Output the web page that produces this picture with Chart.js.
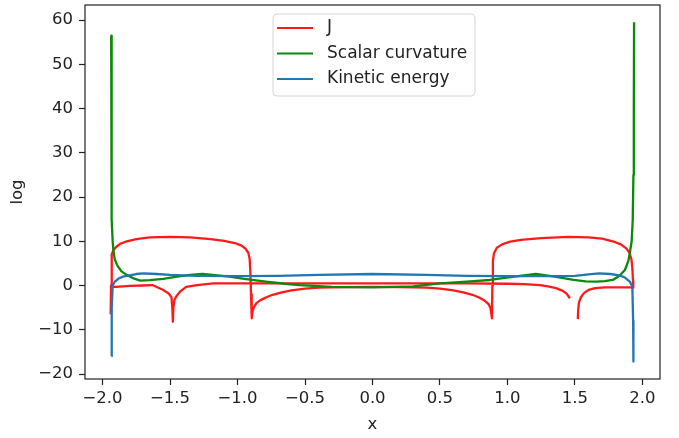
<!DOCTYPE html>
<html><head><meta charset="utf-8">
<script src="https://cdn.jsdelivr.net/npm/chart.js@4"></script>
<style>html,body{margin:0;padding:0;background:#fff}</style>
</head><body>
<canvas id="c" width="679" height="438"></canvas>
<script>
// ---- data ----
const seriesLabels = ['J', 'Scalar curvature', 'Kinetic energy'];
const xTicks = [-2.0, -1.5, -1.0, -0.5, 0.0, 0.5, 1.0, 1.5, 2.0];
const yTicks = [-20, -10, 0, 10, 20, 30, 40, 50, 60];

// J : several branches separated by null gaps
const jX = [
  -1.940,-1.937,-1.934,-1.930,-1.920,-1.900,-1.870,-1.820,-1.750,-1.650,-1.500,-1.350,-1.200,-1.100,-1.020,-0.970,-0.940,-0.920,-0.910,-0.905,-0.900,-0.895,
  -0.890,-0.880,-0.860,-0.830,-0.790,-0.740,-0.680,-0.600,-0.500,-0.400,-0.200,0.000,0.200,0.400,0.500,0.600,0.680,0.740,0.790,0.830,0.860,0.875,0.885,
  0.888,0.892,0.900,0.920,0.960,1.020,1.100,1.250,1.450,1.600,1.700,1.780,1.840,1.880,1.905,1.918,1.925,1.930,1.932,
  1.932,
  -1.935,-1.900,-1.800,-1.700,-1.630,-1.550,-1.510,-1.490,-1.483,-1.479,-1.475,-1.467,-1.450,-1.420,-1.380,-1.300,-1.180,-1.000,-0.700,0.000,0.700,1.000,1.120,1.240,1.300,1.360,1.410,1.440,1.462,
  1.462,
  1.521,1.524,1.530,1.545,1.570,1.600,1.650,1.720,1.820,1.900,1.932
];
const jY = [
  -6.5,0.0,5.5,7.0,7.9,8.7,9.4,10.0,10.5,10.9,11.0,10.9,10.5,10.1,9.6,9.0,8.3,7.4,6.0,3.0,-2.0,-7.4,
  -6.0,-5.0,-4.0,-3.3,-2.7,-2.1,-1.6,-1.1,-0.7,-0.5,-0.35,-0.3,-0.35,-0.5,-0.7,-1.1,-1.6,-2.1,-2.7,-3.4,-4.2,-5.2,-7.4,
  0.0,5.5,7.3,8.5,9.3,9.9,10.3,10.7,11.0,10.9,10.6,10.0,9.3,8.4,7.3,6.0,4.0,1.0,-0.5,
  null,
  -0.3,-0.3,-0.1,0.0,0.1,-1.0,-1.8,-2.6,-5.0,-8.2,-5.0,-3.2,-2.3,-1.2,-0.3,0.1,0.5,0.5,0.5,0.5,0.5,0.4,0.3,0.1,-0.2,-0.6,-1.2,-1.9,-2.9,
  null,
  -7.6,-5.5,-3.8,-2.6,-1.6,-1.0,-0.6,-0.4,-0.4,-0.4,-0.5
];

const scalarX = [
  -1.936,-1.935,-1.933,-1.930,-1.925,-1.920,-1.910,-1.890,-1.860,-1.820,-1.770,-1.720,-1.650,-1.550,-1.450,-1.350,-1.260,-1.150,-1.060,-0.950,-0.790,-0.650,-0.540,-0.300,0.000,
  0.300,0.500,0.700,0.870,1.050,1.210,1.350,1.490,1.580,1.660,1.720,1.780,1.830,1.870,1.895,1.906,1.920,1.928,1.933,1.936,1.938
];
const scalarY = [
  56.5,40.0,25.0,15.0,10.0,8.0,6.0,4.5,3.2,2.4,1.6,1.1,1.2,1.5,2.0,2.4,2.6,2.3,2.0,1.5,0.9,0.4,0.1,-0.3,-0.4,
  -0.2,0.5,0.9,1.25,2.0,2.6,2.0,1.25,0.95,0.86,1.0,1.25,2.2,3.5,5.5,7.3,10.0,14.8,25.0,40.0,59.5
];

const kineticX = [
  -1.933,-1.932,-1.925,-1.910,-1.880,-1.850,-1.800,-1.750,-1.700,-1.600,-1.500,-1.300,-1.000,-0.700,-0.400,0.000,0.400,0.700,1.000,1.300,1.500,1.600,1.680,1.760,1.830,1.870,1.906,1.925,1.931,1.933
];
const kineticY = [
  -16.0,-5.0,0.0,0.8,1.6,2.0,2.3,2.6,2.75,2.6,2.4,2.2,2.1,2.2,2.4,2.6,2.4,2.2,2.1,2.1,2.2,2.5,2.75,2.6,2.3,1.8,0.9,-0.3,-8.0,-17.2
];

const xRange = [-2.13, 2.13];
const yRange = [-21.13, 63.4];

// ---- build ----
const toPts = (xs, ys) => xs.map((x, i) => ({x: x, y: ys[i]}));
const fmt = v => (v < 0 ? '\u2212' : '') + Math.abs(v);
const FONT = 'DejaVu Sans';
const TXT = '#222';

const framePlugin = {
  id: 'frame',
  afterDatasetsDraw(chart) {
    const a = chart.chartArea, ctx = chart.ctx;
    ctx.save();
    ctx.strokeStyle = '#222';
    ctx.lineWidth = 1.2;
    ctx.strokeRect(a.left, a.top, a.right - a.left, a.bottom - a.top);
    ctx.restore();
  }
};

const legendPlugin = {
  id: 'boxLegend',
  afterDraw(chart) {
    const a = chart.chartArea, ctx = chart.ctx;
    const x0 = a.left + 188, y0 = a.top + 9, w = 202, h = 82, r = 4;
    ctx.save();
    ctx.beginPath();
    ctx.moveTo(x0 + r, y0);
    ctx.arcTo(x0 + w, y0, x0 + w, y0 + h, r);
    ctx.arcTo(x0 + w, y0 + h, x0, y0 + h, r);
    ctx.arcTo(x0, y0 + h, x0, y0, r);
    ctx.arcTo(x0, y0, x0 + w, y0, r);
    ctx.closePath();
    ctx.fillStyle = 'rgba(255,255,255,0.85)';
    ctx.fill();
    ctx.strokeStyle = '#d6d6d6';
    ctx.lineWidth = 1;
    ctx.stroke();
    ctx.font = '17px "' + FONT + '"';
    ctx.textBaseline = 'middle';
    ctx.fillStyle = TXT;
    chart.data.datasets.forEach((ds, i) => {
      const yy = y0 + 14 + i * 25.5;
      ctx.beginPath();
      ctx.moveTo(x0 + 4, yy);
      ctx.lineTo(x0 + 40, yy);
      ctx.strokeStyle = ds.borderColor;
      ctx.lineWidth = 2.2;
      ctx.stroke();
      ctx.fillText(ds.label, x0 + 54, yy);
    });
    ctx.restore();
  }
};

new Chart(document.getElementById('c'), {
  type: 'line',
  data: {
    datasets: [
      {label: seriesLabels[0], data: toPts(jX, jY), borderColor: '#ff1a1a', order: 3},
      {label: seriesLabels[1], data: toPts(scalarX, scalarY), borderColor: '#0a8a0a', order: 2},
      {label: seriesLabels[2], data: toPts(kineticX, kineticY), borderColor: '#1f77b4', order: 1}
    ].map(d => Object.assign(d, {
      borderWidth: 2.3, pointRadius: 0, tension: 0, spanGaps: false, fill: false,
      borderJoinStyle: 'round', borderCapStyle: 'butt'
    }))
  },
  options: {
    responsive: false,
    animation: false,
    parsing: true,
    layout: {padding: {top: 5, right: 19, left: 0, bottom: 0}},
    plugins: {legend: {display: false}, tooltip: {enabled: false}},
    scales: {
      x: {
        type: 'linear', min: xRange[0], max: xRange[1],
        afterBuildTicks: s => { s.ticks = xTicks.map(v => ({value: v})); },
        afterFit: s => { s.height = 59; s.paddingLeft = 0; s.paddingRight = 0; },
        grid: {drawOnChartArea: false, drawTicks: true, tickLength: 6, tickColor: '#222', tickWidth: 1.2},
        border: {display: false},
        ticks: {color: TXT, font: {family: FONT, size: 16.5}, padding: 4, maxRotation: 0,
                callback: v => (v < 0 ? '\u2212' : '') + Math.abs(v).toFixed(1)},
        title: {display: true, text: 'x', color: TXT, font: {family: FONT, size: 16.5}, padding: {top: 0, bottom: 3}}
      },
      y: {
        type: 'linear', min: yRange[0], max: yRange[1],
        afterBuildTicks: s => { s.ticks = yTicks.map(v => ({value: v})); },
        afterFit: s => { s.width = 85; s.paddingTop = 0; s.paddingBottom = 0; },
        grid: {drawOnChartArea: false, drawTicks: true, tickLength: 6, tickColor: '#222', tickWidth: 1.2},
        border: {display: false},
        ticks: {color: TXT, font: {family: FONT, size: 16.5}, padding: 6, callback: v => fmt(v)},
        title: {display: true, text: 'log', color: TXT, font: {family: FONT, size: 16.5}, padding: {top: 8, bottom: 0}}
      }
    }
  },
  plugins: [framePlugin, legendPlugin]
});
</script>
</body></html>
